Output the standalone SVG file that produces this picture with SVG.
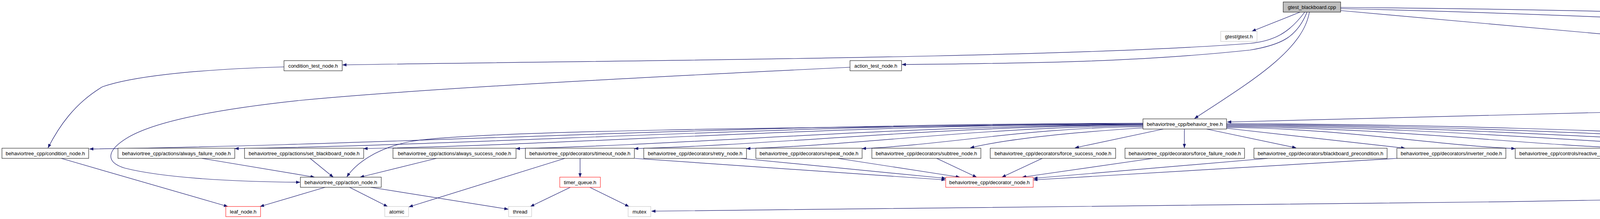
<svg xmlns="http://www.w3.org/2000/svg" width="7103" height="560" viewBox="0 0 7103 560">
<style>
rect.n{fill:#fff;stroke:#000;stroke-width:1}
rect.g{fill:#fff;stroke:#bfbfbf;stroke-width:1}
rect.r{fill:#fff;stroke:#f00;stroke-width:1}
rect.root{fill:#bfbfbf;stroke:#000;stroke-width:1}
text{font-family:"Liberation Sans",Arial,Helvetica,sans-serif;font-size:13px;text-anchor:middle;fill:#000}
path.e{fill:none;stroke:#191970;stroke-width:1.2}
</style>
<defs>
<marker id="a" markerUnits="userSpaceOnUse" markerWidth="11" markerHeight="8" refX="10" refY="3.75" orient="auto">
<path d="M0,0 L10,3.75 L0,7.5 z" fill="#191970" stroke="#191970" stroke-width="0.5"/>
</marker>
</defs>
<rect width="7103" height="560" fill="#fff"/>
<g id="edges" marker-end="url(#a)">
<path class="e" d="M3328,31 L3205,80"/>
<path class="e" d="M3340,31 C3300,85 3260,105 3200,111 C2700,150 1500,155 877,166"/>
<path class="e" d="M3346,31 C3320,95 3280,115 3200,128 C2900,160 2600,162 2309,165"/>
<path class="e" d="M3352,31 C3335,130 3200,210 3058,303"/>
<path class="e" d="M3432,22 C4000,35 4600,65 5076,88"/>
<path class="e" d="M3432,27 L5733,233"/>
<path class="e" d="M3432,19 C4300,25 5200,60 5600,100 C6000,145 6250,195 6423,229"/>
<path class="e" d="M727,171 C480,178 330,198 262,222 C190,265 150,325 123,378"/>
<path class="e" d="M2176,172 C1700,195 1100,225 765,257 C550,280 400,310 330,350 C270,385 270,415 320,430 C420,455 600,465 768,466"/>
<path class="e" d="M5734,246 L3142,312"/>
<path class="e" d="M5831,181 L5831,228"/>
<path class="e" d="M5283,104 L5734,155"/>
<path class="e" d="M5926,178 L6389,230"/>
<path class="e" d="M5929,245 C6200,250 6480,260 6620,282 C6700,300 6710,340 6710,378"/>
<path class="e" d="M5815,256 C5770,300 5745,350 5725,395 C5705,425 5685,440 5660,452"/>
<path class="e" d="M5824,256 C5795,320 5785,400 5830,425 C5880,452 5950,462 5997,465"/>
<path class="e" d="M5833,256 C5850,330 5875,395 5925,422 C6000,455 6150,462 6251,467"/>
<path class="e" d="M5842,256 L5950,378"/>
<path class="e" d="M5851,256 L6055,378"/>
<path class="e" d="M5860,256 L6158,379"/>
<path class="e" d="M6421,255 C6150,335 5900,385 5790,447 C5740,472 5700,482 5620,486 C4500,510 2500,535 1668,540"/>
<path class="e" d="M6464,255 L6213,379"/>
<path class="e" d="M6468,255 C6420,290 6378,330 6368,378"/>
<path class="e" d="M6477,255 C6440,300 6430,350 6465,395 C6485,420 6500,435 6507,452"/>
<path class="e" d="M6503,255 L6540,303"/>
<path class="e" d="M6545,255 L6790,309"/>
<path class="e" d="M6589,249 C6680,262 6725,295 6725,330 C6725,350 6720,365 6716,377"/>
<path class="e" d="M6589,251 C6800,272 6885,300 6872,335 C6865,355 6852,367 6843,378"/>
<path class="e" d="M6589,253 C6780,272 6880,290 6918,320 C6945,340 6960,360 6970,377"/>
<path class="e" d="M6589,246 C6850,258 7085,320 7095,390 C7100,425 7060,442 7010,457"/>
<path class="e" d="M6458,326 C6300,336 6100,358 6001,384"/>
<path class="e" d="M6490,330 C6350,350 6200,368 6129,385"/>
<path class="e" d="M6500,330 C6400,350 6280,370 6223,385"/>
<path class="e" d="M6528,330 L6397,378"/>
<path class="e" d="M6556,330 L6518,452"/>
<path class="e" d="M6566,330 C6592,400 6600,470 6548,490 C6450,525 6200,538 5808,541"/>
<path class="e" d="M6584,330 L6687,378"/>
<path class="e" d="M6603,330 L6790,381"/>
<path class="e" d="M6628,330 L6914,378"/>
<path class="e" d="M6310,405 L6075,457"/>
<path class="e" d="M6348,405 L6300,452"/>
<path class="e" d="M6385,405 L6489,452"/>
<path class="e" d="M6461,405 L6952,459"/>
<path class="e" d="M6981,405 L6981,452"/>
<path class="e" d="M2926,315 C1847,317 1037,370 229,381"/>
<path class="e" d="M2926,316 C1996,318 1298,368 601,380"/>
<path class="e" d="M2926,317 C2128,319 1529,368 931,380"/>
<path class="e" d="M2926,319 C2284,321 1802,369 1321,380"/>
<path class="e" d="M2926,320 C2405,322 2014,369 1624,380"/>
<path class="e" d="M2926,322 C2520,324 2215,370 1911,380"/>
<path class="e" d="M2926,324 C2638,326 2422,370 2207,380"/>
<path class="e" d="M2926,327 C2800,335 2600,350 2484,378"/>
<path class="e" d="M2978,330 L2752,378"/>
<path class="e" d="M3032,330 L3032,378"/>
<path class="e" d="M3089,330 L3318,378"/>
<path class="e" d="M3140,328 L3597,379"/>
<path class="e" d="M3140,326 C3436,328 3658,370 3879,380"/>
<path class="e" d="M3140,324 C3563,326 3881,370 4198,380"/>
<path class="e" d="M3140,322 C3686,324 4096,370 4506,380"/>
<path class="e" d="M3140,320 C3803,322 4300,370 4797,380"/>
<path class="e" d="M3140,318 C3923,320 4510,370 5098,380"/>
<path class="e" d="M3140,316 C4055,318 4742,370 5430,380"/>
<path class="e" d="M2926,318 C2000,325 1200,335 1050,362 C960,380 910,420 888,452"/>
<path class="e" d="M157,405 L583,528"/>
<path class="e" d="M517,405 L805,453"/>
<path class="e" d="M794,405 L853,453"/>
<path class="e" d="M1117,405 L922,453"/>
<path class="e" d="M1446,405 L1047,529"/>
<path class="e" d="M1485,405 L1485,453"/>
<path class="e" d="M1625,405 L2420,460"/>
<path class="e" d="M1896,405 L2421,456"/>
<path class="e" d="M2145,405 L2457,453"/>
<path class="e" d="M2398,405 L2500,453"/>
<path class="e" d="M2668,405 L2565,453"/>
<path class="e" d="M2951,405 L2617,453"/>
<path class="e" d="M3245,405 L2646,456"/>
<path class="e" d="M3576,405 L2646,460"/>
<path class="e" d="M4173,405 L4830,461"/>
<path class="e" d="M4434,405 L4834,455"/>
<path class="e" d="M4687,405 L4888,453"/>
<path class="e" d="M4936,405 L4936,453"/>
<path class="e" d="M5198,405 L4991,453"/>
<path class="e" d="M5462,405 L5037,454"/>
<path class="e" d="M5573,405 L5632,453"/>
<path class="e" d="M5041,478 L5746,536"/>
<path class="e" d="M1460,479 L1358,528"/>
<path class="e" d="M1510,479 L1610,528"/>
<path class="e" d="M832,479 L666,528"/>
<path class="e" d="M895,479 L992,528"/>
<path class="e" d="M949,479 L1301,535"/>
</g>
<g id="n_root"><rect class="root" x="3285" y="5" width="147" height="26"/><text x="3358.5" y="22.5">gtest_blackboard.cpp</text></g>
<g id="n_gtest"><rect class="g" x="3125" y="80" width="93" height="26"/><text x="3171.5" y="97.5">gtest/gtest.h</text></g>
<g id="n_xml_parsing"><rect class="n" x="5077" y="80" width="206" height="26"/><text x="5180" y="97.5">behaviortree_cpp/xml_parsing.h</text></g>
<g id="n_condition_test_node"><rect class="n" x="727" y="155" width="149" height="26"/><text x="801.5" y="172.5">condition_test_node.h</text></g>
<g id="n_action_test_node"><rect class="n" x="2176" y="155" width="132" height="26"/><text x="2242" y="172.5">action_test_node.h</text></g>
<g id="n_bt_parser"><rect class="n" x="5736" y="155" width="190" height="26"/><text x="5831" y="172.5">behaviortree_cpp/bt_parser.h</text></g>
<g id="n_bt_factory"><rect class="n" x="5734" y="229" width="195" height="26"/><text x="5831.5" y="246.5">behaviortree_cpp/bt_factory.h</text></g>
<g id="n_blackboard"><rect class="n" x="6391" y="229" width="198" height="26"/><text x="6490" y="246.5">behaviortree_cpp/blackboard.h</text></g>
<g id="n_behavior_tree"><rect class="n" x="2926" y="304" width="214" height="26"/><text x="3033" y="321.5">behaviortree_cpp/behavior_tree.h</text></g>
<g id="n_basic_types"><rect class="r" x="6458" y="304" width="207" height="26"/><text x="6561.5" y="321.5">behaviortree_cpp/basic_types.h</text></g>
<g id="n_stdint"><rect class="g" x="6791" y="304" width="65" height="26"/><text x="6823.5" y="321.5">stdint.h</text></g>
<g id="n_condition_node"><rect class="n" x="5" y="379" width="222" height="26"/><text x="116" y="396.5">behaviortree_cpp/condition_node.h</text></g>
<g id="n_always_failure"><rect class="n" x="302" y="379" width="299" height="26"/><text x="451.5" y="396.5">behaviortree_cpp/actions/always_failure_node.h</text></g>
<g id="n_set_blackboard"><rect class="n" x="626" y="379" width="305" height="26"/><text x="778.5" y="396.5">behaviortree_cpp/actions/set_blackboard_node.h</text></g>
<g id="n_always_success"><rect class="n" x="1006" y="379" width="315" height="26"/><text x="1163.5" y="396.5">behaviortree_cpp/actions/always_success_node.h</text></g>
<g id="n_timeout"><rect class="n" x="1345" y="379" width="279" height="26"/><text x="1484.5" y="396.5">behaviortree_cpp/decorators/timeout_node.h</text></g>
<g id="n_retry"><rect class="n" x="1648" y="379" width="263" height="26"/><text x="1779.5" y="396.5">behaviortree_cpp/decorators/retry_node.h</text></g>
<g id="n_repeat"><rect class="n" x="1935" y="379" width="272" height="26"/><text x="2071" y="396.5">behaviortree_cpp/decorators/repeat_node.h</text></g>
<g id="n_subtree"><rect class="n" x="2232" y="379" width="279" height="26"/><text x="2371.5" y="396.5">behaviortree_cpp/decorators/subtree_node.h</text></g>
<g id="n_force_success"><rect class="n" x="2535" y="379" width="321" height="26"/><text x="2695.5" y="396.5">behaviortree_cpp/decorators/force_success_node.h</text></g>
<g id="n_force_failure"><rect class="n" x="2880" y="379" width="306" height="26"/><text x="3033" y="396.5">behaviortree_cpp/decorators/force_failure_node.h</text></g>
<g id="n_bb_precondition"><rect class="n" x="3210" y="379" width="341" height="26"/><text x="3380.5" y="396.5">behaviortree_cpp/decorators/blackboard_precondition.h</text></g>
<g id="n_inverter"><rect class="n" x="3576" y="379" width="279" height="26"/><text x="3715.5" y="396.5">behaviortree_cpp/decorators/inverter_node.h</text></g>
<g id="n_reactive_sequence"><rect class="n" x="3879" y="379" width="294" height="26"/><text x="4026" y="396.5">behaviortree_cpp/controls/reactive_sequence.h</text></g>
<g id="n_reactive_fallback"><rect class="n" x="4198" y="379" width="284" height="26"/><text x="4340" y="396.5">behaviortree_cpp/controls/reactive_fallback.h</text></g>
<g id="n_fallback"><rect class="n" x="4506" y="379" width="266" height="26"/><text x="4639" y="396.5">behaviortree_cpp/controls/fallback_node.h</text></g>
<g id="n_sequence"><rect class="n" x="4797" y="379" width="277" height="26"/><text x="4935.5" y="396.5">behaviortree_cpp/controls/sequence_node.h</text></g>
<g id="n_sequence_star"><rect class="n" x="5098" y="379" width="307" height="26"/><text x="5251.5" y="396.5">behaviortree_cpp/controls/sequence_star_node.h</text></g>
<g id="n_parallel"><rect class="n" x="5430" y="379" width="262" height="26"/><text x="5561" y="396.5">behaviortree_cpp/controls/parallel_node.h</text></g>
<g id="n_functional"><rect class="g" x="5921" y="379" width="78" height="26"/><text x="5960" y="396.5">functional</text></g>
<g id="n_unordered_set"><rect class="g" x="6024" y="379" width="103" height="26"/><text x="6075.5" y="396.5">unordered_set</text></g>
<g id="n_memory"><rect class="g" x="6152" y="379" width="69" height="26"/><text x="6186.5" y="396.5">memory</text></g>
<g id="n_safe_any"><rect class="r" x="6245" y="379" width="231" height="26"/><text x="6360.5" y="396.5">behaviortree_cpp/utils/safe_any.hpp</text></g>
<g id="n_unordered_map"><rect class="g" x="6654" y="379" width="111" height="26"/><text x="6709.5" y="396.5">unordered_map</text></g>
<g id="n_sstream"><rect class="g" x="6789" y="379" width="69" height="26"/><text x="6823.5" y="396.5">sstream</text></g>
<g id="n_exceptions"><rect class="r" x="6881" y="379" width="199" height="26"/><text x="6980.5" y="396.5">behaviortree_cpp/exceptions.h</text></g>
<g id="n_action_node"><rect class="n" x="769" y="453" width="207" height="26"/><text x="872.5" y="470.5">behaviortree_cpp/action_node.h</text></g>
<g id="n_timer_queue"><rect class="r" x="1433" y="453" width="104" height="26"/><text x="1485" y="470.5">timer_queue.h</text></g>
<g id="n_decorator_node"><rect class="r" x="2421" y="453" width="224" height="26"/><text x="2533" y="470.5">behaviortree_cpp/decorator_node.h</text></g>
<g id="n_control_node"><rect class="r" x="4831" y="453" width="210" height="26"/><text x="4936" y="470.5">behaviortree_cpp/control_node.h</text></g>
<g id="n_set"><rect class="g" x="5625" y="453" width="40" height="26"/><text x="5645" y="470.5">set</text></g>
<g id="n_algorithm"><rect class="g" x="5999" y="453" width="74" height="26"/><text x="6036" y="470.5">algorithm</text></g>
<g id="n_cstring"><rect class="g" x="6253" y="453" width="61" height="26"/><text x="6283.5" y="470.5">cstring</text></g>
<g id="n_iostream"><rect class="g" x="6479" y="453" width="71" height="26"/><text x="6514.5" y="470.5">iostream</text></g>
<g id="n_string"><rect class="g" x="6954" y="453" width="54" height="26"/><text x="6981" y="470.5">string</text></g>
<g id="n_leaf_node"><rect class="r" x="578" y="528" width="89" height="26"/><text x="622.5" y="545.5">leaf_node.h</text></g>
<g id="n_atomic"><rect class="g" x="985" y="528" width="61" height="26"/><text x="1015.5" y="545.5">atomic</text></g>
<g id="n_thread"><rect class="g" x="1302" y="528" width="59" height="26"/><text x="1331.5" y="545.5">thread</text></g>
<g id="n_mutex"><rect class="g" x="1608" y="528" width="58" height="26"/><text x="1637" y="545.5">mutex</text></g>
<g id="n_vector"><rect class="g" x="5747" y="528" width="58" height="26"/><text x="5776" y="545.5">vector</text></g>
</svg>
